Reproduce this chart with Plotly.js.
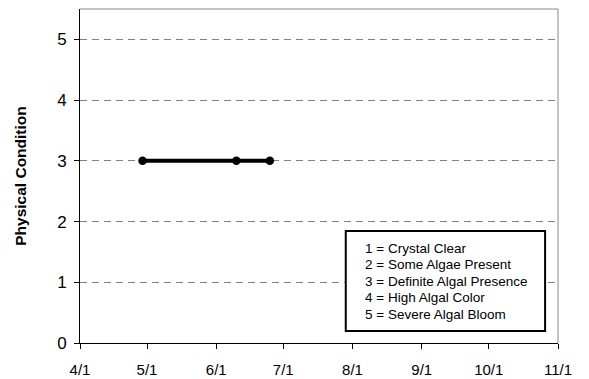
<!DOCTYPE html>
<html><head><meta charset="utf-8">
<script src="https://cdn.plot.ly/plotly-3.0.1.min.js"></script>
<style>html,body{margin:0;padding:0;background:#fff}#chart{width:589px;height:379px}</style>
</head><body><div id="chart"></div>
<script>
const dates = ["2008-04-29", "2008-06-10", "2008-06-25"];
const condition = [3, 3, 3];
const xTickVals = ["2008-04-01","2008-05-01","2008-06-01","2008-07-01","2008-08-01","2008-09-01","2008-10-01","2008-11-01"];
const xTickText = ["4/1","5/1","6/1","7/1","8/1","9/1","10/1","11/1"];
const yTickVals = [0, 1, 2, 3, 4, 5];
const legendLines = ["1 = Crystal Clear","2 = Some Algae Present","3 = Definite Algal Presence","4 = High Algal Color","5 = Severe Algal Bloom"];

const FONT = "Liberation Sans, Arial, sans-serif";
const trace = {
  x: dates, y: condition, type: "scatter", mode: "lines+markers",
  line: {color: "#000", width: 4}, marker: {color: "#000", size: 8.5},
  showlegend: false, hoverinfo: "skip"
};
const annotations = legendLines.map((t, i) => ({
  xref: "paper", yref: "paper", x: 0.593, y: 0.2835 - i * 0.0494,
  xanchor: "left", yanchor: "middle", text: t, align: "left", showarrow: false,
  font: {size: 13.5, family: FONT, color: "#000"}
}));
const layout = {
  width: 589, height: 379,
  margin: {l: 80, r: 31, t: 9, b: 36},
  paper_bgcolor: "#fff", plot_bgcolor: "#fff",
  font: {family: FONT, color: "#000"},
  xaxis: {
    type: "date", range: ["2008-04-01", "2008-11-01"],
    tickvals: xTickVals, ticktext: xTickText,
    ticks: "outside", ticklen: 5, tickcolor: "#000", tickwidth: 1,
    showgrid: false, zeroline: false, showline: true, linecolor: "#000", linewidth: 1,
    tickfont: {size: 15}, ticklabelstandoff: 8
  },
  yaxis: {
    range: [0, 5.5], tickvals: yTickVals,
    ticks: "outside", ticklen: 5, tickcolor: "#000", tickwidth: 1,
    showgrid: true, gridcolor: "#808080", griddash: "7px,5px", gridwidth: 1,
    zeroline: false, showline: true, linecolor: "#000", linewidth: 1,
    tickfont: {size: 17}, ticklabelstandoff: 4,
    title: {text: "Physical Condition", font: {size: 15.5, family: FONT, weight: "bold"}, standoff: 26}
  },
  shapes: [
    {type: "line", xref: "paper", yref: "paper", x0: 0, x1: 1, y0: 1, y1: 1, line: {color: "#888", width: 1}},
    {type: "line", xref: "paper", yref: "paper", x0: 1, x1: 1, y0: 0, y1: 1, line: {color: "#888", width: 1}},
    {type: "rect", xref: "paper", yref: "paper", x0: 0.556, x1: 0.973, y0: 0.036, y1: 0.335,
     line: {color: "#000", width: 2}, fillcolor: "#fff", layer: "above"}
  ],
  annotations: annotations
};
Plotly.newPlot("chart", [trace], layout, {displayModeBar: false, staticPlot: true});
</script></body></html>
